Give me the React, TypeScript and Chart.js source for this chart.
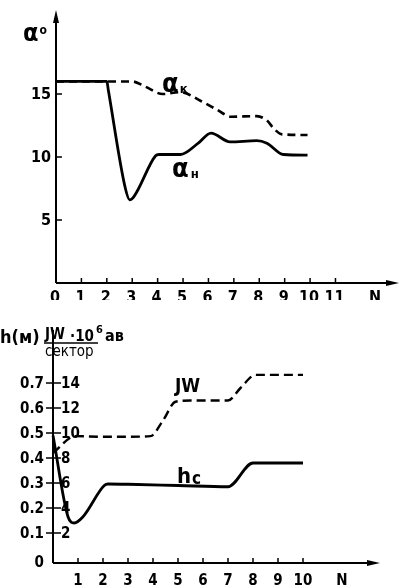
import React, { useEffect, useRef } from "react";
import { Chart, registerables } from "chart.js";

Chart.register(...registerables);

const FONT = '"DejaVu Sans Condensed", "Liberation Sans Narrow", "DejaVu Sans", sans-serif';

// ---------- top panel: α° vs N ----------
const nAlphaK = [0, 1, 2, 3, 3.5, 4.2, 4.9, 5.7, 6.3, 6.9, 7.9, 8.3, 8.6, 8.9, 9.9];
const alphaK = [16, 16, 16, 16, 15.6, 15.0, 15.15, 14.45, 13.8, 13.2, 13.25, 12.9, 12.2, 11.8, 11.75];
const nAlphaN = [0, 1, 2, 2.06, 2.72, 2.9, 3.08, 3.92, 4.05, 4.9, 5.6, 6.1, 6.85, 7.9, 8.3, 8.95, 9.9];
const alphaN = [16, 16, 16, 15.3, 7.6, 6.6, 6.9, 10.1, 10.2, 10.2, 11.1, 11.9, 11.2, 11.3, 11.1, 10.2, 10.15];
const topXTicks = [0, 1, 2, 3, 4, 5, 6, 7, 8, 9, 10, 11];
const topYTicks = [5, 10, 15];

// ---------- bottom panel: h (м) and JW·10^6 ав/сектор vs N ----------
const nJW = [0, 0.9, 2, 3, 3.9, 4.4, 4.9, 5.5, 7.0, 7.5, 8.1, 9, 10];
const jw = [8.4, 9.75, 9.7, 9.7, 9.75, 11.0, 12.5, 12.6, 12.6, 13.6, 14.65, 14.65, 14.65];
const nHc = [0, 0.6, 0.85, 1.2, 2.05, 2.2, 3, 5, 7, 8, 9, 10];
const hc = [0.49, 0.165, 0.14, 0.165, 0.29, 0.296, 0.295, 0.29, 0.285, 0.38, 0.38, 0.38];
const bottomXTicks = [1, 2, 3, 4, 5, 6, 7, 8, 9, 10];
const hTicks = [0.1, 0.2, 0.3, 0.4, 0.5, 0.6, 0.7];
const jwTicks = [2, 4, 6, 8, 10, 12, 14];

const pts = (xs: number[], ys: number[]) => xs.map((x, i) => ({ x, y: ys[i] }));

function font(size: number, bold = true) {
  return `${bold ? "bold " : ""}${size}px ${FONT}`;
}

function arrowUp(ctx: CanvasRenderingContext2D, x: number, y: number) {
  ctx.beginPath();
  ctx.moveTo(x, y);
  ctx.lineTo(x - 3, y + 13);
  ctx.lineTo(x + 3, y + 13);
  ctx.closePath();
  ctx.fill();
}
function arrowRight(ctx: CanvasRenderingContext2D, x: number, y: number) {
  ctx.beginPath();
  ctx.moveTo(x, y);
  ctx.lineTo(x - 13, y - 3);
  ctx.lineTo(x - 13, y + 3);
  ctx.closePath();
  ctx.fill();
}

function sub(
  ctx: CanvasRenderingContext2D,
  main: string,
  s: string,
  x: number,
  y: number,
  mainSize: number,
  subSize: number,
  dy: number,
  gap = 0
) {
  ctx.font = font(mainSize);
  ctx.fillText(main, x, y);
  const w = ctx.measureText(main).width;
  ctx.font = font(subSize);
  ctx.fillText(s, x + w + gap, y + dy);
}

const topDecor = {
  id: "topDecor",
  afterDraw(chart: any) {
    const ctx: CanvasRenderingContext2D = chart.ctx;
    const { left, right, top, bottom } = chart.chartArea;
    const xs = chart.scales.x;
    const ys = chart.scales.y;
    ctx.save();
    ctx.strokeStyle = "#000";
    ctx.fillStyle = "#000";
    ctx.lineWidth = 2;
    ctx.beginPath();
    ctx.moveTo(left, bottom);
    ctx.lineTo(left, top + 6);
    ctx.moveTo(left, bottom);
    ctx.lineTo(right - 6, bottom);
    ctx.stroke();
    arrowUp(ctx, left, top);
    arrowRight(ctx, right, bottom);
    ctx.lineWidth = 1.5;
    ctx.beginPath();
    topXTicks.forEach((v) => {
      if (v === 0) return;
      const px = xs.getPixelForValue(v);
      ctx.moveTo(px, bottom);
      ctx.lineTo(px, bottom - 5);
    });
    topYTicks.forEach((v) => {
      const py = ys.getPixelForValue(v);
      ctx.moveTo(left, py);
      ctx.lineTo(left + 6, py);
    });
    ctx.stroke();
    ctx.font = font(16);
    ctx.textAlign = "center";
    ctx.textBaseline = "alphabetic";
    topXTicks.forEach((v) => {
      ctx.fillText(String(v), xs.getPixelForValue(v) - 1, bottom + 19);
    });
    ctx.fillText("N", 375, bottom + 19);
    ctx.textAlign = "right";
    ctx.textBaseline = "middle";
    topYTicks.forEach((v) => {
      ctx.fillText(String(v), left - 5, ys.getPixelForValue(v) + 1);
    });
    ctx.textAlign = "left";
    ctx.textBaseline = "alphabetic";
    sub(ctx, "α", "o", 23, 41, 25, 12, -7, 1);
    sub(ctx, "α", "к", 162, 92, 27, 13, 1, 1);
    sub(ctx, "α", "н", 172, 177, 27, 13, 1, 2);
    ctx.restore();
  },
};

const bottomDecor = {
  id: "bottomDecor",
  afterDraw(chart: any) {
    const ctx: CanvasRenderingContext2D = chart.ctx;
    const { left, right, top, bottom } = chart.chartArea;
    const xs = chart.scales.x;
    const ys = chart.scales.y;
    const yj = chart.scales.yJW;
    ctx.save();
    ctx.strokeStyle = "#000";
    ctx.fillStyle = "#000";
    ctx.lineWidth = 2;
    ctx.beginPath();
    ctx.moveTo(left, bottom);
    ctx.lineTo(left, top);
    ctx.moveTo(left, bottom);
    ctx.lineTo(right - 6, bottom);
    ctx.stroke();
    arrowRight(ctx, right, bottom);
    ctx.lineWidth = 1.5;
    ctx.beginPath();
    bottomXTicks.forEach((v) => {
      const px = xs.getPixelForValue(v);
      ctx.moveTo(px, bottom);
      ctx.lineTo(px, bottom - 5);
    });
    hTicks.forEach((v) => {
      const py = ys.getPixelForValue(v);
      ctx.moveTo(left - 7, py);
      ctx.lineTo(left + 8, py);
    });
    ctx.stroke();
    ctx.font = font(15);
    ctx.textAlign = "center";
    ctx.textBaseline = "alphabetic";
    bottomXTicks.forEach((v) => {
      ctx.fillText(String(v), xs.getPixelForValue(v), bottom + 22);
    });
    ctx.fillText("N", 342, bottom + 22);
    ctx.textAlign = "right";
    ctx.textBaseline = "middle";
    hTicks.forEach((v) => {
      ctx.fillText(v.toFixed(1), left - 9, ys.getPixelForValue(v) + 1);
    });
    ctx.fillText("0", left - 9, bottom);
    ctx.textAlign = "left";
    jwTicks.forEach((v) => {
      ctx.fillText(String(v), left + 8, yj.getPixelForValue(v) + 1);
    });
    // header
    ctx.textBaseline = "alphabetic";
    ctx.font = font(18);
    ctx.fillText("h(м)", 0, 43);
    ctx.font = font(15);
    ctx.fillText("JW", 45, 39);
    ctx.fillText("·10", 70, 41);
    ctx.font = font(11);
    ctx.fillText("6", 96, 33);
    ctx.font = font(16);
    ctx.fillText("ав", 105, 41);
    ctx.lineWidth = 1.5;
    ctx.beginPath();
    ctx.moveTo(44, 43);
    ctx.lineTo(98, 43);
    ctx.stroke();
    ctx.font = font(15, false);
    ctx.fillText("сектор", 45, 56);
    // series labels
    ctx.font = font(19);
    ctx.fillText("JW", 175, 92);
    sub(ctx, "h", "c", 177, 183, 22, 17, 1, 1);
    ctx.restore();
  },
};

function TopChart() {
  const ref = useRef<HTMLCanvasElement>(null);
  useEffect(() => {
    if (!ref.current) return;
    const chart = new Chart(ref.current, {
      type: "line",
      data: {
        datasets: [
          {
            label: "αк",
            data: pts(nAlphaK, alphaK),
            borderColor: "#000",
            borderWidth: 2.6,
            borderDash: [8, 5],
            pointRadius: 0,
            cubicInterpolationMode: "monotone",
            clip: false,
          },
          {
            label: "αн",
            data: pts(nAlphaN, alphaN),
            borderColor: "#000",
            borderWidth: 2.8,
            pointRadius: 0,
            cubicInterpolationMode: "monotone",
            clip: false,
          },
        ],
      },
      options: {
        responsive: false,
        animation: false,
        layout: { padding: { left: 56, right: 0, top: 10, bottom: 17 } },
        plugins: { legend: { display: false }, tooltip: { enabled: false } },
        scales: {
          x: { type: "linear", min: 0, max: 13.5, display: false },
          y: { type: "linear", min: 0, max: 21.67, display: false },
        },
      },
      plugins: [topDecor],
    } as any);
    return () => chart.destroy();
  }, []);
  return (
    <canvas
      ref={ref}
      width={399}
      height={300}
      style={{ position: "absolute", left: 0, top: 0, width: 399, height: 300 }}
    />
  );
}

function BottomChart() {
  const ref = useRef<HTMLCanvasElement>(null);
  useEffect(() => {
    if (!ref.current) return;
    const chart = new Chart(ref.current, {
      type: "line",
      data: {
        datasets: [
          {
            label: "JW",
            data: pts(nJW, jw),
            yAxisID: "yJW",
            borderColor: "#000",
            borderWidth: 2.4,
            borderDash: [9, 5],
            pointRadius: 0,
            cubicInterpolationMode: "monotone",
            clip: false,
          },
          {
            label: "hc",
            data: pts(nHc, hc),
            yAxisID: "y",
            borderColor: "#000",
            borderWidth: 2.8,
            pointRadius: 0,
            cubicInterpolationMode: "monotone",
            clip: false,
          },
        ],
      },
      options: {
        responsive: false,
        animation: false,
        layout: { padding: { left: 53, right: 19, top: 30, bottom: 24 } },
        plugins: { legend: { display: false }, tooltip: { enabled: false } },
        scales: {
          x: { type: "linear", min: 0, max: 13.08, display: false },
          y: { type: "linear", min: -0.02, max: 0.912, display: false },
          yJW: { type: "linear", min: -0.4, max: 18.24, display: false },
        },
      },
      plugins: [bottomDecor],
    } as any);
    return () => chart.destroy();
  }, []);
  return (
    <canvas
      ref={ref}
      width={399}
      height={287}
      style={{ position: "absolute", left: 0, top: 300, width: 399, height: 287 }}
    />
  );
}

export default function App() {
  return (
    <div
      style={{
        position: "fixed",
        left: 0,
        top: 0,
        width: 399,
        height: 587,
        background: "#fff",
        overflow: "hidden",
      }}
    >
      <TopChart />
      <BottomChart />
    </div>
  );
}
